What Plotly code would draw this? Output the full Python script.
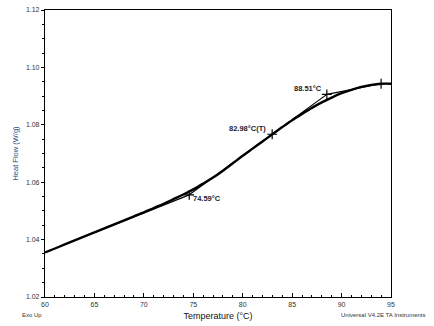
import plotly.graph_objects as go

# Data
temp = [60, 61, 62, 63, 64, 65, 66, 67, 68, 69, 70, 71, 72, 73, 74, 75, 76, 77,
        78, 79, 80, 81, 82, 83, 84, 85, 86, 87, 88, 89, 90, 91, 92, 93, 94, 95]
heat_flow = [1.0355, 1.0369, 1.0383, 1.0397, 1.0411, 1.0425, 1.0439, 1.0453,
             1.0467, 1.0481, 1.0495, 1.0510, 1.0525, 1.0541, 1.0557, 1.0575,
             1.0595, 1.0616, 1.0640, 1.0666, 1.0692, 1.0717, 1.0742, 1.0767,
             1.0792, 1.0816, 1.0838, 1.0859, 1.0878, 1.0895, 1.0910, 1.0922,
             1.0932, 1.0939, 1.0943, 1.0943]

# Tangent construction lines (endpoints)
lower_tan_x = [65.0, 74.59]
lower_tan_y = [1.0424, 1.0556]
mid_tan_x = [74.59, 88.51]
mid_tan_y = [1.0556, 1.0906]
upper_tan_x = [88.51, 94.0]
upper_tan_y = [1.0906, 1.0943]

marker_x = [74.59, 82.98, 88.51, 94.0]
marker_y = [1.0556, 1.0767, 1.0906, 1.0943]
marker_text = ["74.59°C", "82.98°C(T)", "88.51°C", ""]

fig = go.Figure()
fig.add_trace(go.Scatter(x=temp, y=heat_flow, mode="lines",
                         line=dict(color="black", width=2.4, shape="spline"),
                         showlegend=False))
for tx, ty in [(lower_tan_x, lower_tan_y), (mid_tan_x, mid_tan_y), (upper_tan_x, upper_tan_y)]:
    fig.add_trace(go.Scatter(x=tx, y=ty, mode="lines",
                             line=dict(color="black", width=1.2), showlegend=False))
fig.add_trace(go.Scatter(x=marker_x, y=marker_y, mode="markers",
                         marker=dict(symbol="cross-thin", size=7,
                                     line=dict(color="black", width=1.2)),
                         showlegend=False))

lab_font = dict(family="Liberation Sans, Arial", size=7.5, color="#1a1a2e")
fig.add_annotation(x=marker_x[0], y=marker_y[0], text="<b>" + marker_text[0] + "</b>",
                   showarrow=False, xanchor="left", yanchor="top", xshift=2, yshift=3,
                   font=lab_font)
fig.add_annotation(x=marker_x[1], y=marker_y[1], text="<b>" + marker_text[1] + "</b>",
                   showarrow=False, xanchor="right", yanchor="bottom", xshift=-4, yshift=-1,
                   font=lab_font)
fig.add_annotation(x=marker_x[2], y=marker_y[2], text="<b>" + marker_text[2] + "</b>",
                   showarrow=False, xanchor="right", yanchor="bottom", xshift=-3, yshift=-1,
                   font=lab_font)

fig.add_annotation(xref="paper", yref="paper", x=-0.072, y=-0.062, text="Exo Up",
                   showarrow=False, xanchor="left", yanchor="middle",
                   font=dict(family="Liberation Sans, Arial", size=6, color="#333"))
fig.add_annotation(xref="paper", yref="paper", x=1.105, y=-0.062,
                   text="Universal V4.2E TA Instruments",
                   showarrow=False, xanchor="right", yanchor="middle",
                   font=dict(family="Liberation Sans, Arial", size=6, color="#333"))

tick_font = dict(family="Liberation Sans, Arial", size=7, color="#333")
fig.update_layout(
    width=434, height=326,
    margin=dict(l=45, r=43, t=6, b=28),
    paper_bgcolor="white", plot_bgcolor="white",
    xaxis=dict(range=[60, 95], tickmode="array", tickvals=[60, 65, 70, 75, 80, 85, 90, 95],
               ticks="inside", ticklen=4, tickcolor="black", tickwidth=1,
               minor=dict(dtick=1, ticks="inside", ticklen=2, tickcolor="black"),
               showgrid=False, zeroline=False, showline=True, linecolor="black",
               linewidth=1.2, mirror=True, tickfont=tick_font,
               title=dict(text="Temperature (°C)", standoff=6,
                          font=dict(family="Liberation Sans, Arial", size=9, color="#111"))),
    yaxis=dict(range=[1.02, 1.12], tickmode="array",
               tickvals=[1.02, 1.04, 1.06, 1.08, 1.10, 1.12],
               ticktext=["1.02", "1.04", "1.06", "1.08", "1.10", "1.12"],
               ticks="outside", ticklen=3, tickcolor="black", tickwidth=1,
               minor=dict(dtick=0.005, ticks="outside", ticklen=2, tickcolor="black"),
               showgrid=False, zeroline=False, showline=True, linecolor="black",
               linewidth=1.2, mirror=True, tickfont=tick_font,
               title=dict(text="Heat Flow (W/g)", standoff=6,
                          font=dict(family="Liberation Sans, Arial", size=7.5, color="#2f4f7f"))),
)
fig.write_html("out.html")
